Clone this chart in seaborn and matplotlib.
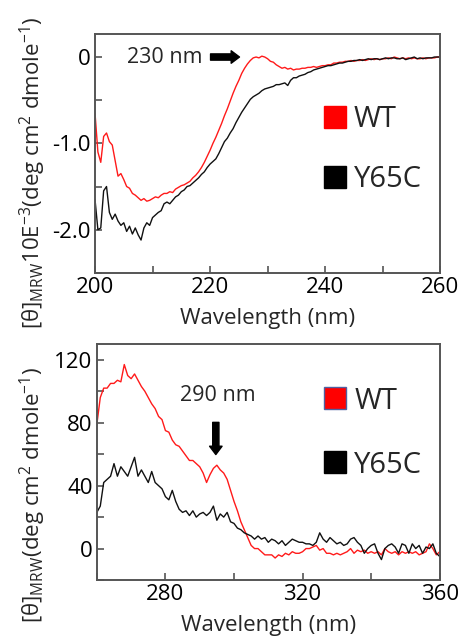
import numpy as np
import pandas as pd
import matplotlib
matplotlib.use('Agg')
import matplotlib.pyplot as plt
from matplotlib.lines import Line2D
from matplotlib.ticker import MultipleLocator
import seaborn as sns

# far-UV CD spectrum (200-260 nm, 0.5 nm steps), units 10E-3 deg cm2 dmole-1
wt_far = [-0.65, -1.10, -1.22, -0.92, -0.88, -0.98, -1.02, -1.20, -1.38, -1.35,
          -1.42, -1.50, -1.52, -1.58, -1.60, -1.63, -1.66, -1.64, -1.67, -1.66,
          -1.64, -1.62, -1.63, -1.60, -1.58, -1.58, -1.56, -1.57, -1.53, -1.51,
          -1.49, -1.48, -1.46, -1.44, -1.40, -1.37, -1.33, -1.28, -1.22, -1.15,
          -1.08, -1.00, -0.93, -0.85, -0.77, -0.68, -0.60, -0.51, -0.42, -0.34,
          -0.27, -0.19, -0.13, -0.08, -0.04, -0.01, 0.00, -0.01, 0.01, 0.00,
          -0.02, -0.05, -0.06, -0.09, -0.11, -0.13, -0.12, -0.14, -0.13, -0.15,
          -0.14, -0.14, -0.13, -0.13, -0.12, -0.12, -0.11, -0.12, -0.11, -0.10,
          -0.10, -0.09, -0.09, -0.07, -0.07, -0.06, -0.06, -0.05, -0.05, -0.04,
          -0.05, -0.04, -0.04, -0.03, -0.04, -0.03, -0.02, -0.03, -0.02, -0.03,
          -0.02, -0.02, -0.01, -0.02, 0.00, -0.01, -0.02, -0.01, -0.02, -0.01,
          -0.02, -0.01, -0.02, -0.02, -0.01, -0.02, -0.01, -0.01, -0.01, 0.00,
          0.00]
y65c_far = [-1.65, -2.00, -1.98, -1.55, -1.50, -1.80, -1.88, -1.82, -1.90, -1.95,
            -1.92, -2.02, -1.96, -2.05, -1.98, -2.06, -2.12, -1.98, -1.92, -1.95,
            -1.86, -1.83, -1.80, -1.78, -1.70, -1.68, -1.70, -1.66, -1.62, -1.60,
            -1.56, -1.54, -1.50, -1.49, -1.46, -1.43, -1.40, -1.36, -1.33, -1.28,
            -1.24, -1.21, -1.18, -1.12, -1.05, -0.98, -0.94, -0.88, -0.83, -0.76,
            -0.70, -0.64, -0.59, -0.54, -0.49, -0.46, -0.44, -0.42, -0.39, -0.37,
            -0.36, -0.35, -0.34, -0.32, -0.32, -0.31, -0.30, -0.33, -0.27, -0.24,
            -0.24, -0.22, -0.21, -0.20, -0.18, -0.17, -0.15, -0.14, -0.13, -0.12,
            -0.11, -0.10, -0.10, -0.09, -0.08, -0.07, -0.07, -0.06, -0.05, -0.05,
            -0.04, -0.04, -0.03, -0.04, -0.03, -0.02, -0.03, -0.02, -0.02, -0.03,
            -0.02, -0.01, -0.02, -0.01, -0.01, -0.02, -0.02, -0.01, -0.03, -0.02,
            -0.01, 0.00, -0.02, -0.01, -0.02, -0.01, -0.01, -0.01, 0.00, 0.00,
            0.00]

# near-UV CD spectrum (260-360 nm, 1 nm steps)
wt_near = [79, 96, 102, 102, 105, 105, 107, 106, 117, 110,
           108, 111, 107, 103, 100, 96, 92, 89, 84, 82,
           75, 74, 69, 66, 65, 62, 59, 56, 56, 54,
           52, 48, 42, 47, 51, 53, 50, 48, 44, 37,
           30, 24, 17, 12, 7, 2, 0, 0, -2, -4,
           -4, -4, -6, -4, -5, -3, -4, -2, -3, -3,
           -2, 0, 0, 1, 2, -1, 0, -3, -3, -4,
           -3, -4, -3, -2, 0, -3, -1, -2, -1, -3,
           -2, -3, -2, -4, 0, -2, -3, -2, -4, -2,
           -3, -2, -3, -2, -4, -3, -2, 3, 0, -4,
           -2]
y65c_near = [23, 27, 42, 44, 46, 54, 46, 52, 49, 46,
             52, 58, 46, 50, 46, 42, 49, 42, 40, 38,
             33, 31, 37, 30, 25, 23, 24, 21, 24, 20,
             22, 23, 21, 23, 27, 18, 22, 20, 23, 17,
             16, 13, 12, 10, 9, 8, 6, 8, 6, 7,
             4, 6, 5, 3, 5, 2, 4, 6, 5, 4,
             4, 3, 3, 2, 4, 10, 6, 4, 7, 5,
             3, 4, 2, 3, 6, 7, 4, 2, -3, 0,
             2, 3, -3, -7, 0, 2, 3, 1, -3, 3,
             2, -3, 3, 0, 2, -3, 1, 0, 3, -3,
             -5]

far = pd.DataFrame({'wl': np.linspace(200, 260, len(wt_far)), 'WT': wt_far, 'Y65C': y65c_far})
near = pd.DataFrame({'wl': np.linspace(260, 360, len(wt_near)), 'WT': wt_near, 'Y65C': y65c_near})

sns.set_style('ticks')
plt.rcParams['font.family'] = ['Open Sans', 'DejaVu Sans']
plt.rcParams['font.weight'] = 'medium'
plt.rcParams['mathtext.fontset'] = 'custom'
plt.rcParams['mathtext.rm'] = 'Open Sans:medium'
plt.rcParams['mathtext.it'] = 'Open Sans:italic'

fig = plt.figure(figsize=(4.59, 6.36), dpi=100)
ax1 = fig.add_axes([0.207, 0.571, 0.752, 0.376])
ax2 = fig.add_axes([0.211, 0.088, 0.747, 0.371])

colors = {'WT': '#ff1a1a', 'Y65C': '#111111'}
for ax, df in [(ax1, far), (ax2, near)]:
    for name in ['WT', 'Y65C']:
        sns.lineplot(data=df, x='wl', y=name, ax=ax, color=colors[name], lw=1.0, estimator=None)
    for s in ax.spines.values():
        s.set_color('#555555')
        s.set_linewidth(1.4)
    ax.tick_params(which='both', direction='in', colors='#555555', labelcolor='black', labelsize=16, width=1.2)
    ax.tick_params(which='major', length=5, pad=3)
    ax.tick_params(which='minor', length=5)
    ax.set_xlabel('Wavelength (nm)', fontsize=16, labelpad=7)
    ax.set_ylabel('')

ax1.set_xlim(200, 260)
ax1.set_ylim(-2.5, 0.27)
ax1.xaxis.set_major_locator(MultipleLocator(20))
ax1.xaxis.set_minor_locator(MultipleLocator(10))
ax1.set_yticks([0, -1.0, -2.0], ['0', '-1.0', '-2.0'])
ax1.yaxis.set_minor_locator(MultipleLocator(0.5))

ax2.set_xlim(260, 360)
ax2.set_ylim(-20, 130)
ax2.xaxis.set_major_locator(MultipleLocator(40))
ax2.xaxis.set_minor_locator(MultipleLocator(20))
ax2.yaxis.set_major_locator(MultipleLocator(40))
ax2.yaxis.set_minor_locator(MultipleLocator(20))

# annotations
ax1.text(205.6, 0, '230 nm', fontsize=15.5, va='center', ha='left')
ax1.annotate('', xy=(225.6, 0), xytext=(219.6, 0),
             arrowprops=dict(arrowstyle='simple,head_length=0.6,head_width=0.9,tail_width=0.45', color='black'))
ax2.text(295.3, 97, '290 nm', fontsize=15.5, va='center', ha='center')
ax2.annotate('', xy=(294.7, 58), xytext=(294.7, 82),
             arrowprops=dict(arrowstyle='simple,head_length=0.6,head_width=0.9,tail_width=0.45', color='black'))

def legend(ax, x, y, spacing, wt_edge):
    handles = [Line2D([], [], marker='s', ls='', markersize=16, color='#ff0000', markeredgecolor=wt_edge),
               Line2D([], [], marker='s', ls='', markersize=16, color='black')]
    ax.legend(handles, ['WT', 'Y65C'], loc='center left', bbox_to_anchor=(x, y), frameon=False,
              fontsize=21, handlelength=1.0, handletextpad=0.15, labelspacing=spacing, borderpad=0)

legend(ax1, 0.61, 0.515, 1.05, '#ff0000')
legend(ax2, 0.61, 0.623, 1.2, '#5060a0')

fig.text(0.072, 0.728, '[θ]$_{\\mathrm{MRW}}$10E$^{\\mathrm{-3}}$(deg cm$^{\\mathrm{2}}$ dmole$^{\\mathrm{-1}}$)',
         rotation=90, fontsize=16, va='center', ha='center')
fig.text(0.072, 0.222, '[θ]$_{\\mathrm{MRW}}$(deg cm$^{\\mathrm{2}}$ dmole$^{\\mathrm{-1}}$)',
         rotation=90, fontsize=16, va='center', ha='center')

plt.savefig('out.png', dpi=100)
plt.close()
